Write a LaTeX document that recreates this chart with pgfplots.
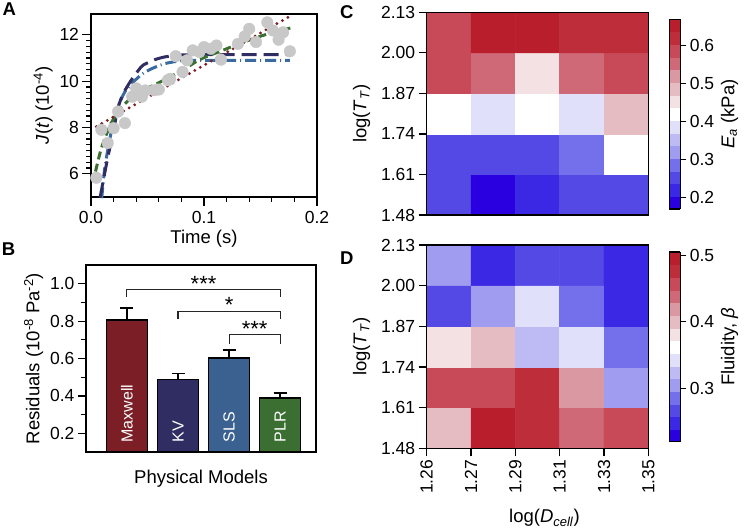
\documentclass[border=0pt]{standalone}
\usepackage{fontspec}
\setmainfont{Liberation Sans}
\usepackage{pgfplots}
\pgfplotsset{compat=1.18}

\definecolor{cMax}{RGB}{123,30,37}
\definecolor{cKV}{RGB}{48,45,99}
\definecolor{cSLS}{RGB}{59,97,144}
\definecolor{cSLSl}{RGB}{58,106,158}
\definecolor{cPLR}{RGB}{59,110,49}
\definecolor{ptgray}{RGB}{200,200,200}

\pgfplotsset{
  every axis/.append style={
    scale only axis,
    axis line style={line width=1.4pt},
    tick style={line width=1.2pt, black},
    tick align=outside,
    major tick length=6pt,
    minor tick length=3.5pt,
    tick label style={font=\fontsize{17.5}{20}\selectfont},
    label style={font=\fontsize{18.5}{22}\selectfont},
    /pgf/number format/assume math mode=true,
  },
  bwr/.style={
    colormap={bwr}{rgb255=(42,0,224) rgb255=(59,40,228) rgb255=(85,73,230)
      rgb255=(116,112,235) rgb255=(160,156,240) rgb255=(189,186,244)
      rgb255=(225,224,250) rgb255=(255,255,255) rgb255=(243,225,228)
      rgb255=(230,188,195) rgb255=(218,152,162) rgb255=(207,104,119)
      rgb255=(200,74,88) rgb255=(190,46,58) rgb255=(184,30,43)},
    colormap access=piecewise constant,
  },
  onedec/.style={/pgf/number format/.cd, fixed, fixed zerofill, precision=1},
}

\begin{document}
\begin{tikzpicture}
\path[use as bounding box] (0,0) rectangle (747pt,-531pt);

% panel letters
\node[anchor=north west, inner sep=0, font=\fontsize{18.5}{20}\selectfont\bfseries] at (2.5pt,-2.7pt) {A};
\node[anchor=north west, inner sep=0, font=\fontsize{18.5}{20}\selectfont\bfseries] at (1.7pt,-243pt) {B};
\node[anchor=north west, inner sep=0, font=\fontsize{18.5}{20}\selectfont\bfseries] at (340pt,-5pt) {C};
\node[anchor=north west, inner sep=0, font=\fontsize{18.5}{20}\selectfont\bfseries] at (340pt,-252pt) {D};

% ---------- A: creep compliance
\begin{axis}[at={(91pt,-14pt)}, anchor=north west,
  width=226pt, height=183pt,
  xmin=0, xmax=0.2, ymin=5, ymax=12.9,
  xtick={0,0.1,0.2}, ytick={6,8,10,12},
  minor x tick num=4, minor y tick num=7,
  major tick length=8.5pt, minor tick length=5pt,
  tick pos=left,
  xticklabel style={yshift=-2.6pt, onedec},
  xlabel={Time (s)},
  xlabel style={at={(axis description cs:0.5,0)}, anchor=base, yshift=-46pt},
  ylabel={\textit{J}(\textit{t}) (10\textsuperscript{-4})},
  clip=false]
\addplot[only marks, mark=*, mark size=5.8pt, color=ptgray] coordinates {
  (0.0047,5.83) (0.0092,7.90) (0.0148,7.33) (0.0200,7.97) (0.0240,8.69)
  (0.0300,8.19) (0.0365,9.33) (0.0400,9.69) (0.0450,9.33) (0.0480,9.60)
  (0.0560,9.61) (0.0600,9.64) (0.0680,10.04) (0.0700,10.10) (0.0750,11.08)
  (0.0810,10.40) (0.0850,10.90) (0.0900,11.33) (0.0960,11.26) (0.1000,11.47)
  (0.1060,11.40) (0.1110,11.54) (0.1150,10.93) (0.1300,11.61) (0.1360,11.93)
  (0.1400,12.26) (0.1460,11.69) (0.1560,12.54) (0.1610,12.19) (0.1660,11.79)
  (0.1700,12.11) (0.1760,11.29)
};
\addplot[cSLSl, line width=3pt, dash pattern=on 11pt off 4pt on 1pt off 4pt, smooth, tension=0.4] coordinates {
  (0.0095,4.95) (0.0124,6.33) (0.0183,7.90) (0.0240,8.90) (0.0300,9.54)
  (0.0390,10.04) (0.0460,10.33) (0.0537,10.54) (0.0655,10.76) (0.0800,10.88)
  (0.1000,10.90) (0.1400,10.90) (0.1760,10.90)
};
\addplot[cKV, line width=3pt, dash pattern=on 15pt off 7pt, smooth, tension=0.4] coordinates {
  (0.0080,4.97) (0.0139,6.47) (0.0200,7.90) (0.0242,8.90) (0.0286,9.47)
  (0.0350,10.00) (0.0420,10.47) (0.0460,10.69) (0.0560,10.92) (0.0655,11.05)
  (0.0800,11.13) (0.1000,11.15) (0.1400,11.15) (0.1760,11.15)
};
\addplot[cPLR, line width=3pt, dash pattern=on 8pt off 4.5pt, smooth, tension=0.5] coordinates {
  (0.0040,6.10) (0.0080,6.90) (0.0120,7.50) (0.0180,8.20) (0.0250,8.75)
  (0.0350,9.25) (0.0470,9.62) (0.0620,9.98) (0.0800,10.45) (0.0970,10.95)
  (0.1150,11.30) (0.1330,11.65) (0.1570,12.05) (0.1770,12.30)
};
\addplot[cMax, line width=3.2pt, dash pattern=on 0pt off 6.3pt, line cap=round] coordinates {
  (0.0047,8.04) (0.0200,8.46) (0.0400,9.02) (0.0600,9.58) (0.0800,10.13)
  (0.1000,10.69) (0.1200,11.24) (0.1400,11.80) (0.1600,12.36) (0.1760,12.80)
};
\end{axis}

% ---------- B: residuals
\begin{axis}[at={(86pt,-265pt)}, anchor=north west,
  width=230pt, height=187pt,
  xmin=0.2, xmax=4.7, ymin=0.1, ymax=1.1,
  xtick=\empty, ytick={0.2,0.4,0.6,0.8,1.0}, minor y tick num=1,
  major tick length=8pt, minor tick length=5pt,
  ytick pos=left,
  yticklabel style={onedec},
  xlabel={Physical Models},
  ylabel={Residuals (10\textsuperscript{-8} Pa\textsuperscript{-2})},
  xlabel style={at={(axis description cs:0.5,0)}, anchor=base, yshift=-31.6pt}]
\addplot[ybar, bar width=41pt, bar shift=0pt, fill=cMax, draw=black, line width=1.5pt,
  error bars/.cd, y dir=plus, y explicit, error bar style={line width=1.5pt, black},
  error mark options={rotate=90, mark size=6.5pt, line width=1.5pt, black}]
  coordinates {(1,0.805) +- (0,0.065)};
\addplot[ybar, bar width=41pt, bar shift=0pt, fill=cKV, draw=black, line width=1.5pt,
  error bars/.cd, y dir=plus, y explicit, error bar style={line width=1.5pt, black},
  error mark options={rotate=90, mark size=6.5pt, line width=1.5pt, black}]
  coordinates {(2,0.487) +- (0,0.033)};
\addplot[ybar, bar width=41pt, bar shift=0pt, fill=cSLS, draw=black, line width=1.5pt,
  error bars/.cd, y dir=plus, y explicit, error bar style={line width=1.5pt, black},
  error mark options={rotate=90, mark size=6.5pt, line width=1.5pt, black}]
  coordinates {(3,0.603) +- (0,0.042)};
\addplot[ybar, bar width=41pt, bar shift=0pt, fill=cPLR, draw=black, line width=1.5pt,
  error bars/.cd, y dir=plus, y explicit, error bar style={line width=1.5pt, black},
  error mark options={rotate=90, mark size=6.5pt, line width=1.5pt, black}]
  coordinates {(4,0.390) +- (0,0.026)};
\node[rotate=90, anchor=west, inner sep=0, text=white, font=\fontsize{16}{18}\selectfont] at (axis cs:1,0.15) {Maxwell};
\node[rotate=90, anchor=west, inner sep=0, text=white, font=\fontsize{16}{18}\selectfont] at (axis cs:2,0.15) {KV};
\node[rotate=90, anchor=west, inner sep=0, text=white, font=\fontsize{16}{18}\selectfont] at (axis cs:3,0.15) {SLS};
\node[rotate=90, anchor=west, inner sep=0, text=white, font=\fontsize{16}{18}\selectfont] at (axis cs:4,0.15) {PLR};
\draw[line width=1.1pt, black!85] (axis cs:1,0.93) |- (axis cs:4,0.97) -- (axis cs:4,0.93);
\draw[line width=1.1pt, black!85] (axis cs:2,0.81) |- (axis cs:4,0.853) -- (axis cs:4,0.81);
\draw[line width=1.1pt, black!85] (axis cs:3,0.68) |- (axis cs:4,0.727) -- (axis cs:4,0.68);
\node[font=\fontsize{22}{24}\selectfont, anchor=south, inner sep=1pt, yshift=-3pt] at (axis cs:2.5,0.97) {***};
\node[font=\fontsize{22}{24}\selectfont, anchor=south, inner sep=1pt, yshift=-3pt] at (axis cs:3,0.853) {*};
\node[font=\fontsize{22}{24}\selectfont, anchor=south, inner sep=1pt, yshift=-3pt] at (axis cs:3.5,0.727) {***};
\end{axis}

% ---------- C: apparent modulus
\begin{axis}[at={(426.7pt,-12.3pt)}, anchor=north west,
  width=221.6pt, height=202.7pt, bwr,
  xmin=0, xmax=5, ymin=0, ymax=5, enlargelimits=false,
  xtick=\empty, ytick={0,1,2,3,4,5},
  yticklabels={1.48,1.61,1.74,1.87,2.00,2.13},
  ytick pos=left, major tick length=8pt,
  ylabel={log(\textit{T}\textsubscript{\textit{T}})},
  ylabel shift=4pt,
  point meta min=0.17, point meta max=0.67,
  colorbar,
  colorbar style={at={(parent axis.north east)}, anchor=north west,
    xshift=12.4pt, yshift=-7pt, width=11pt, height=189.7pt,
    ytick={0.2,0.3,0.4,0.5,0.6}, yticklabel style={onedec},
    ytick pos=right, major tick length=6pt,
    ylabel={\textit{E}\textsubscript{\textit{a}} (kPa)}},
  axis on top]
\addplot[matrix plot*, mesh/cols=5, point meta=explicit] table[meta=c] {
x y c
0.5 0.5 0.253
1.5 0.5 0.187
2.5 0.5 0.220
3.5 0.5 0.253
4.5 0.5 0.253
0.5 1.5 0.253
1.5 1.5 0.253
2.5 1.5 0.253
3.5 1.5 0.287
4.5 1.5 0.420
0.5 2.5 0.420
1.5 2.5 0.387
2.5 2.5 0.420
3.5 2.5 0.387
4.5 2.5 0.487
0.5 3.5 0.587
1.5 3.5 0.553
2.5 3.5 0.453
3.5 3.5 0.553
4.5 3.5 0.587
0.5 4.5 0.587
1.5 4.5 0.653
2.5 4.5 0.653
3.5 4.5 0.620
4.5 4.5 0.620
};
\end{axis}

% ---------- D: fluidity
\begin{axis}[at={(426.7pt,-245pt)}, anchor=north west,
  width=221.6pt, height=203.3pt, bwr,
  xmin=0, xmax=5, ymin=0, ymax=5, enlargelimits=false,
  xtick={0,1,2,3,4,5},
  xticklabels={1.26,1.27,1.29,1.31,1.33,1.35},
  xticklabel style={rotate=90, anchor=east},
  ytick={0,1,2,3,4,5},
  yticklabels={1.48,1.61,1.74,1.87,2.00,2.13},
  tick pos=left, major tick length=8pt,
  xlabel={log(\textit{D}\textsubscript{\textit{cell}})},
  xlabel style={at={(axis description cs:0.5,0)}, anchor=base, yshift=-74.4pt, xshift=7pt},
  ylabel={log(\textit{T}\textsubscript{\textit{T}})},
  ylabel shift=4pt,
  point meta min=0.22, point meta max=0.505,
  colorbar,
  colorbar style={at={(parent axis.north east)}, anchor=north west,
    xshift=12.4pt, yshift=-7pt, width=11pt, height=189.7pt,
    ytick={0.3,0.4,0.5}, yticklabel style={onedec},
    ytick pos=right, major tick length=6pt,
    ylabel={Fluidity, \textit{β}}},
  axis on top]
\addplot[matrix plot*, mesh/cols=5, point meta=explicit] table[meta=c] {
x y c
0.5 0.5 0.4005
1.5 0.5 0.4955
2.5 0.5 0.4765
3.5 0.5 0.4385
4.5 0.5 0.4575
0.5 1.5 0.4575
1.5 1.5 0.4575
2.5 1.5 0.4765
3.5 1.5 0.4195
4.5 1.5 0.3055
0.5 2.5 0.3815
1.5 2.5 0.4005
2.5 2.5 0.3245
3.5 2.5 0.3435
4.5 2.5 0.2865
0.5 3.5 0.2675
1.5 3.5 0.3055
2.5 3.5 0.3435
3.5 3.5 0.2865
4.5 3.5 0.2485
0.5 4.5 0.3055
1.5 4.5 0.2485
2.5 4.5 0.2675
3.5 4.5 0.2675
4.5 4.5 0.2485
};
\end{axis}
\end{tikzpicture}
\end{document}
